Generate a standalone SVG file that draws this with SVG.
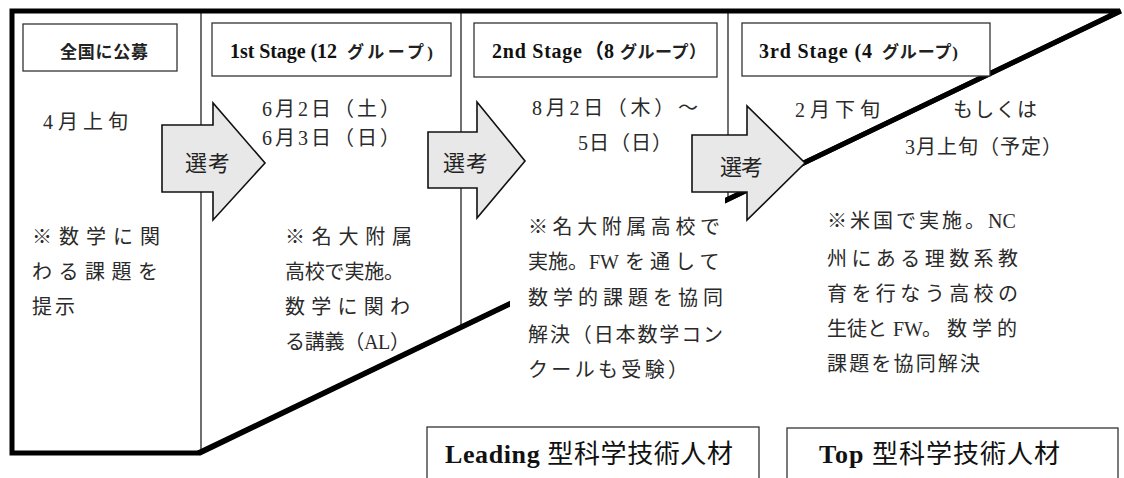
<svg xmlns="http://www.w3.org/2000/svg" width="1124" height="478" viewBox="0 0 1124 478">
<style>
.frame{fill:none;stroke:#000;stroke-width:5;stroke-linejoin:miter}
.thin{stroke:#222;stroke-width:1.3;fill:none}
.box{fill:#fff;stroke:#333;stroke-width:1.3}
.arrow{fill:#e8e8e8;stroke:#111;stroke-width:1.6;stroke-linejoin:miter}
.hd{font-family:'Liberation Serif','Noto Sans CJK JP',serif;font-weight:bold;font-size:20px;fill:#111}
.kana{font-family:'Liberation Serif','Noto Sans CJK JP',serif;font-weight:bold;font-size:17px;fill:#222}
.body{font-family:'Liberation Serif','Noto Sans CJK JP',serif;font-size:20px;fill:#2a2a2a}
.lbl{font-family:'Liberation Serif','Noto Sans CJK JP',serif;font-size:22px;fill:#222}
.big{font-family:'Liberation Serif','Noto Sans CJK JP',serif;font-size:26px;fill:#111}
</style>
<rect width="1124" height="478" fill="#fff"/>
<g id="frame">
  <line class="thin" x1="201" y1="12" x2="201" y2="452"/>
  <line class="thin" x1="461" y1="12" x2="461" y2="328"/>
  <line class="thin" x1="728" y1="12" x2="728" y2="200"/>
  <polygon class="frame" points="1120,11 12,11 12,453 200,453"/>
  <line x1="198" y1="453" x2="1121" y2="11" stroke="#000" stroke-width="5"/>
</g>
<g id="stage0">
  <rect class="box" x="23" y="24" width="154" height="47"/>
  <text class="kana" x="60" y="58" textLength="88" lengthAdjust="spacing">全国に公募</text>
  <text class="body" x="43" y="129" textLength="85" lengthAdjust="spacing">4月上旬</text>
  <text class="body" x="32" y="244" textLength="128" lengthAdjust="spacing">※数学に関</text>
  <text class="body" x="32" y="279" textLength="126" lengthAdjust="spacing">わる課題を</text>
  <text class="body" x="32" y="314" textLength="43" lengthAdjust="spacing">提示</text>
</g>
<g id="stage1">
  <rect class="box" x="212" y="23" width="239" height="53"/>
  <text class="hd" x="230" y="58" textLength="107" lengthAdjust="spacing">1st Stage (12</text>
  <text class="kana" x="347" y="58" textLength="86" lengthAdjust="spacing">グループ)</text>
  <text class="body" x="262" y="116" textLength="138" lengthAdjust="spacing">6月2日（土）</text>
  <text class="body" x="262" y="145" textLength="138" lengthAdjust="spacing">6月3日（日）</text>
  <text class="body" x="285" y="244" textLength="127" lengthAdjust="spacing">※名大附属</text>
  <text class="body" x="285" y="279" textLength="119" lengthAdjust="spacing">高校で実施。</text>
  <text class="body" x="285" y="314" textLength="125" lengthAdjust="spacing">数学に関わ</text>
  <text class="body" x="285" y="349" textLength="125" lengthAdjust="spacing">る講義（AL）</text>
</g>
<g id="stage2">
  <rect class="box" x="474" y="23" width="243" height="54"/>
  <text class="hd" x="492" y="58" textLength="90" lengthAdjust="spacing">2nd Stage</text>
  <text class="hd" x="584" y="58">（8</text>
  <text class="kana" x="620" y="58" textLength="86" lengthAdjust="spacing">グループ）</text>
  <text class="body" x="532" y="115" textLength="166" lengthAdjust="spacing">8月2日（木）～</text>
  <text class="body" x="578" y="150" textLength="94" lengthAdjust="spacing">5日（日）</text>
  <rect x="510" y="198" width="215" height="190" fill="#fff"/>
  <text class="body" x="528" y="234" textLength="192" lengthAdjust="spacing">※名大附属高校で</text>
  <text class="body" y="269"><tspan x="528">実施。</tspan><tspan x="589">FW </tspan><tspan x="625" letter-spacing="5">を通して</tspan></text>
  <text class="body" x="528" y="305" textLength="195" lengthAdjust="spacing">数学的課題を協同</text>
  <text class="body" x="528" y="342" textLength="195" lengthAdjust="spacing">解決（日本数学コン</text>
  <text class="body" x="528" y="377" textLength="160" lengthAdjust="spacing">クールも受験）</text>
</g>
<g id="stage3">
  <rect class="box" x="742" y="23" width="248" height="53"/>
  <text class="hd" x="759" y="58" textLength="113" lengthAdjust="spacing">3rd Stage (4</text>
  <text class="kana" x="882" y="58" textLength="76" lengthAdjust="spacing">グループ)</text>
  <text class="body" x="795" y="117" textLength="85" lengthAdjust="spacing">2月下旬</text>
  <text class="body" x="953" y="117" textLength="84" lengthAdjust="spacing">もしくは</text>
  <text class="body" x="905" y="154" textLength="157" lengthAdjust="spacing">3月上旬（予定）</text>
  <text class="body" y="228"><tspan x="827" letter-spacing="3">※米国で実施。</tspan><tspan x="988">NC</tspan></text>
  <text class="body" x="827" y="266" textLength="191" lengthAdjust="spacing">州にある理数系教</text>
  <text class="body" x="827" y="301" textLength="191" lengthAdjust="spacing">育を行なう高校の</text>
  <text class="body" y="336"><tspan x="827">生徒と </tspan><tspan x="893">FW</tspan><tspan x="922">。</tspan><tspan x="947" letter-spacing="5">数学的</tspan></text>
  <text class="body" x="827" y="371" textLength="153" lengthAdjust="spacing">課題を協同解決</text>
</g>
<g id="connectors">
  <g id="select1">
    <polygon class="arrow" points="162,125 213,125 213,103 265,163 213,220 213,192 162,192"/>
    <text class="lbl" x="185" y="171" textLength="45" lengthAdjust="spacing">選考</text>
  </g>
  <g id="select2">
    <polygon class="arrow" points="428,132 477,132 477,102 525,161 477,218 477,188 428,188"/>
    <text class="lbl" x="443" y="171" textLength="45" lengthAdjust="spacing">選考</text>
  </g>
  <g id="select3">
    <polygon class="arrow" points="692,135 747,135 747,106 805,163 747,220 747,192 692,192"/>
    <text class="lbl" x="720" y="175" textLength="43" lengthAdjust="spacing">選考</text>
  </g>
</g>
<g id="leading">
  <rect class="box" x="427" y="427" width="332" height="60"/>
  <text class="big" x="445" y="463" textLength="288" lengthAdjust="spacing"><tspan font-weight="bold">Leading</tspan> 型科学技術人材</text>
</g>
<g id="top">
  <rect class="box" x="787" y="428" width="331" height="60"/>
  <text class="big" x="819" y="463" textLength="241" lengthAdjust="spacing"><tspan font-weight="bold">Top</tspan> 型科学技術人材</text>
</g>
</svg>
